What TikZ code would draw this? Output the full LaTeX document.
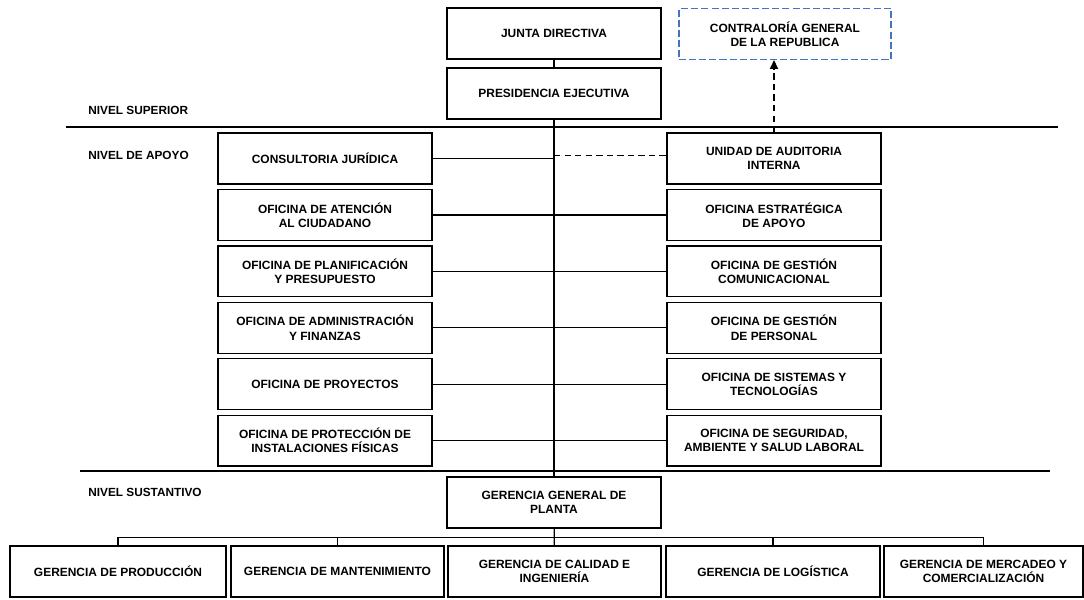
\documentclass[tikz,border=0pt]{standalone}
\usepackage{fontspec}
\setmainfont{Liberation Sans}
\usepackage{xcolor}
\usetikzlibrary{arrows.meta}
\definecolor{auditblue}{RGB}{68,114,196}

\begin{document}
\begin{tikzpicture}[x=0.025cm,y=-0.025cm,node distance=1.41cm,line width=0.9pt,
		unit box/.style={draw,line width=0.9pt,minimum width=5.35cm,minimum height=1.27cm,
			inner sep=0pt,align=center,font=\bfseries\fontsize{8.5}{10}\selectfont},
		level label/.style={anchor=west,font=\bfseries\fontsize{8.4}{10}\selectfont},
		link dash/.style={dash pattern=on 4.5pt off 3pt}]
	\useasboundingbox (0,0) rectangle (1084,599);
	% Levels
	  \node[level label] (sup) at (83,110) {NIVEL SUPERIOR};
	  \node[level label] (apo) at (83,155) {NIVEL DE APOYO};
	  \node[level label] (sus) at (83,492) {NIVEL SUSTANTIVO};
	  \draw (66,127) -- (1058,127);
	  \draw (80,471) -- (1050,471);

	% Nodes
	  \node[unit box] (junta) at (554,33.5) {JUNTA DIRECTIVA};
	  \node[unit box] (pres) at (554,93.5) {PRESIDENCIA EJECUTIVA};
	  \node[unit box,draw=auditblue,dash pattern=on 5pt off 2.2pt,minimum width=5.3cm] (contra) at (785,34) {CONTRALORÍA GENERAL\\DE LA REPUBLICA};

	  \node[unit box] (cons) at (325,158.5) {CONSULTORIA JURÍDICA};
	  \node[unit box] (aten) [below of = cons] {OFICINA DE ATENCIÓN\\AL CIUDADANO};
	  \node[unit box] (plan) [below of = aten] {OFICINA DE PLANIFICACIÓN\\Y PRESUPUESTO};
	  \node[unit box] (admi) [below of = plan] {OFICINA DE ADMINISTRACIÓN\\Y FINANZAS};
	  \node[unit box] (proy) [below of = admi] {OFICINA DE PROYECTOS};
	  \node[unit box] (prot) [below of = proy] {OFICINA DE PROTECCIÓN DE\\INSTALACIONES FÍSICAS};

	  \node[unit box] (unid) at (774,158.5) {UNIDAD DE AUDITORIA\\INTERNA};
	  \node[unit box] (estr) [below of = unid] {OFICINA ESTRATÉGICA\\DE APOYO};
	  \node[unit box] (comu) [below of = estr] {OFICINA DE GESTIÓN\\COMUNICACIONAL};
	  \node[unit box] (pers) [below of = comu] {OFICINA DE GESTIÓN\\DE PERSONAL};
	  \node[unit box] (sist) [below of = pers] {OFICINA DE SISTEMAS Y\\TECNOLOGÍAS};
	  \node[unit box] (segu) [below of = sist] {OFICINA DE SEGURIDAD,\\AMBIENTE Y SALUD LABORAL};

	  \node[unit box] (plant) at (554,502.5) {GERENCIA GENERAL DE\\PLANTA};

	  \node[unit box,minimum width=5.4cm] (prod) at (118,571.5) {GERENCIA DE PRODUCCIÓN};
	  \node[unit box,minimum width=5.32cm] (mant) at (337.5,571.5) {GERENCIA DE MANTENIMIENTO};
	  \node[unit box,minimum width=5.32cm] (cali) at (554.5,571.5) {GERENCIA DE CALIDAD E\\INGENIERÍA};
	  \node[unit box] (logi) at (773,571.5) {GERENCIA DE LOGÍSTICA};
	  \node[unit box,minimum width=4.97cm] (merc) at (983.5,571.5) {GERENCIA DE MERCADEO Y\\COMERCIALIZACIÓN};

	% Edges
	  \draw (junta) -- (pres);
	  \draw (pres) -- (plant);
	  \draw (cons.east) -- (cons.east -| pres.south);
	  \draw[link dash] ([yshift=2pt]unid.west -| pres.south) -- ([yshift=2pt]unid.west);
	  \draw[link dash,-{Triangle[length=2.2mm,width=2mm]}] (unid.north) -- (unid.north |- contra.south);
	  \draw (aten) -- (estr);
	  \draw (plan) -- (comu);
	  \draw (admi) -- (pers);
	  \draw (proy) -- (sist);
	  \draw (prot) -- (segu);
	  \draw (plant) -- (cali);
	  \draw (prod.north) -- ++(0,-8) -| (merc.north);
	  \draw (mant.north) -- ++(0,-8);
	  \draw (logi.north) -- ++(0,-8);
\end{tikzpicture}
\end{document}
